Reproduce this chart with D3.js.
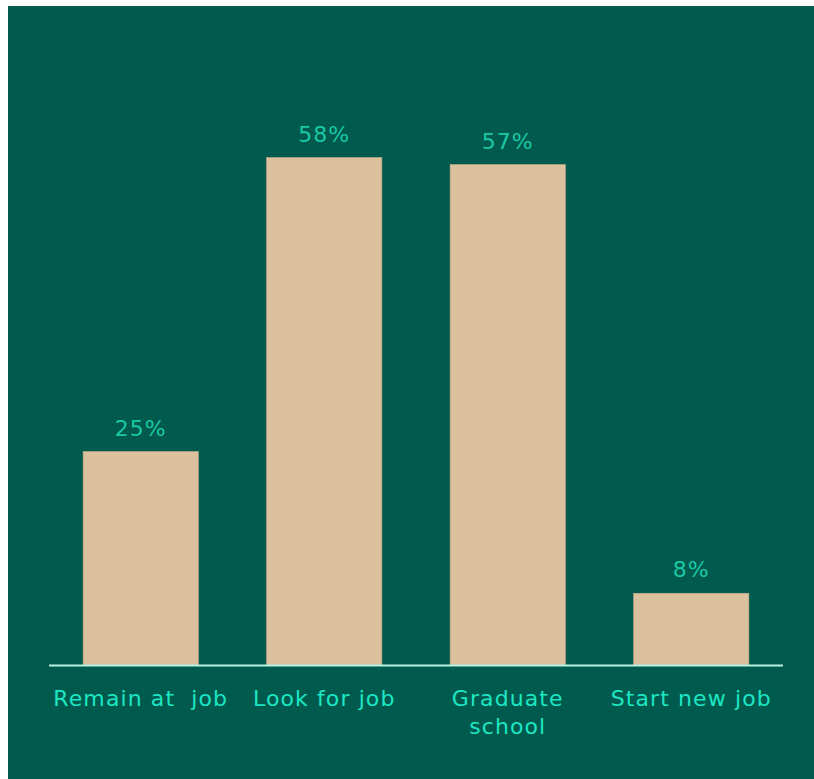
<!DOCTYPE html>
<html lang="en">
    <head>
        <meta charset="utf-8">
        <title>After graduation</title>
        <script type="text/javascript" src="https://cdn.jsdelivr.net/npm/d3@7"></script>
        <style>
            body { margin: 0; background: #ffffff; }
            svg { display: block; }
            text { white-space: pre; }
        </style>
    </head>
    <body>
        <script type="text/javascript">
            // chart data
            var categories = ["Remain at  job", "Look for job", "Graduate school", "Start new job"];
            var values = [24.4, 58, 57.2, 8.2];
            var valueLabels = ["25%", "58%", "57%", "8%"];
            // category labels split onto lines
            var categoryLines = [["Remain at  job"], ["Look for job"], ["Graduate", "school"], ["Start new job"]];

            var w = 814;
            var h = 779;

            var svg = d3.select("body").append("svg").attr("width", w).attr("height", h);

            // dark green panel
            svg.append("rect")
                .attr("x", 8).attr("y", 6)
                .attr("width", w - 8).attr("height", h - 6)
                .attr("fill", "#005a4e");

            var x = d3.scaleBand()
                .domain(categories)
                .range([49, 783])
                .paddingInner(0.372)
                .paddingOuter(0.186);

            var y = d3.scaleLinear()
                .domain([0, 60])
                .range([665, 140]);

            svg.selectAll("rect.bar")
                .data(values)
                .enter()
                .append("rect")
                .attr("class", "bar")
                .attr("x", function(d, i){ return x(categories[i]); })
                .attr("y", function(d){ return y(d); })
                .attr("width", x.bandwidth())
                .attr("height", function(d){ return y(0) - y(d); })
                .attr("fill", "#dbc19d")
                .attr("stroke", "#c4ab88")
                .attr("stroke-width", 0.6);

            // value labels above bars
            svg.selectAll("text.val")
                .data(values)
                .enter()
                .append("text")
                .attr("class", "val")
                .text(function(d, i){ return valueLabels[i]; })
                .attr("x", function(d, i){ return x(categories[i]) + x.bandwidth() / 2; })
                .attr("y", function(d){ return y(d) - 16; })
                .attr("font-family", "DejaVu Sans, Verdana, sans-serif")
                .attr("font-size", "22px")
                .attr("letter-spacing", "1.1px")
                .attr("fill", "#1cc8a3")
                .attr("text-anchor", "middle");

            // baseline
            svg.append("line")
                .attr("x1", 49).attr("x2", 783)
                .attr("y1", y(0) + 0.5).attr("y2", y(0) + 0.5)
                .attr("stroke", "#b9f2e2")
                .attr("stroke-width", 2);

            // category labels
            var cat = svg.selectAll("text.cat")
                .data(categories)
                .enter()
                .append("text")
                .attr("class", "cat")
                .attr("x", function(d){ return x(d) + x.bandwidth() / 2; })
                .attr("y", 706)
                .attr("font-family", "DejaVu Sans, Verdana, sans-serif")
                .attr("font-size", "22px")
                .attr("letter-spacing", "1.1px")
                .attr("fill", "#1de6c2")
                .attr("text-anchor", "middle");

            cat.selectAll("tspan")
                .data(function(d, i){ return categoryLines[i]; })
                .enter()
                .append("tspan")
                .attr("x", function(){ var p = this.parentNode; return p.getAttribute("x"); })
                .attr("dy", function(d, j){ return j === 0 ? 0 : 28; })
                .text(function(d){ return d; });
        </script>
    </body>
</html>
